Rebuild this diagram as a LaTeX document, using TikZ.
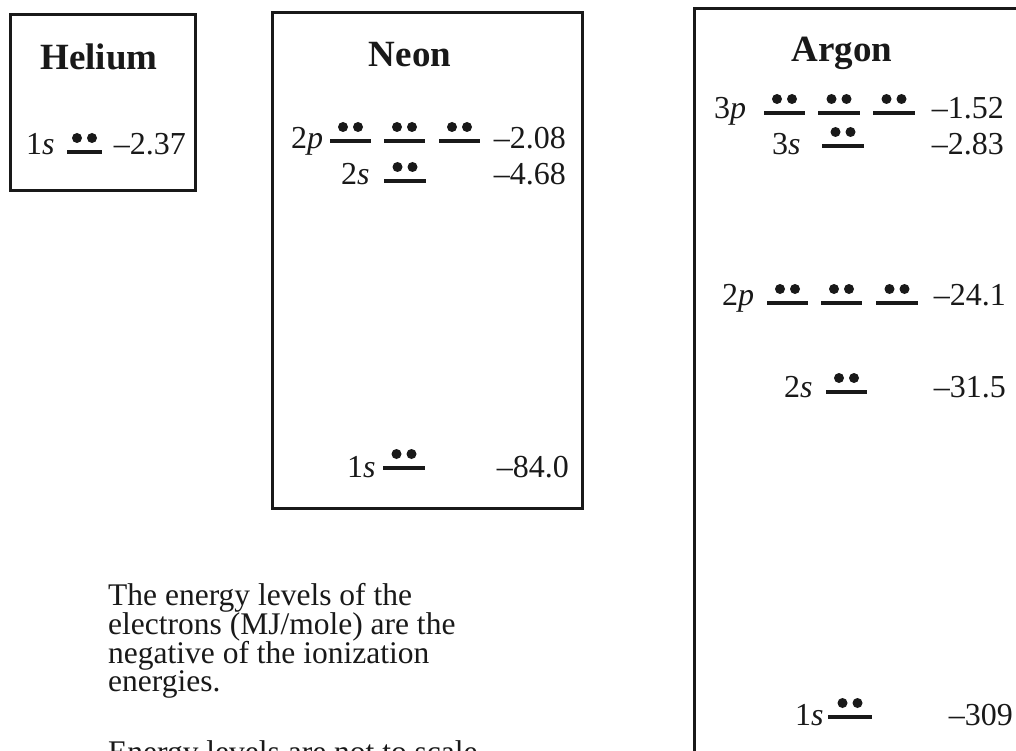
\documentclass[tikz,border=0pt]{standalone}
\usepackage{fontspec}
\setmainfont{Liberation Serif}
\newcommand\enlvl[3]{%
  \draw[lvline] (#1,#3) -- (#2,#3);
  \fill[black!90] ({(#1+#2)/2-7.5},{#3-14}) circle[radius=5];
  \fill[black!90] ({(#1+#2)/2+7.5},{#3-14}) circle[radius=5];}
\begin{document}
\begin{tikzpicture}[x=1pt,y=-1pt,
  box/.style={draw=black!90, line width=3pt},
  head/.style={anchor=base, font=\fontsize{37}{40}\selectfont\bfseries, inner sep=0pt, text=black!90},
  lab/.style={anchor=base west, font=\fontsize{32}{34}\selectfont, inner sep=0pt, text=black!90},
  val/.style={anchor=base east, font=\fontsize{32}{34}\selectfont, inner sep=0pt, text=black!90},
  lvline/.style={line width=3.2pt, black!90},
  body/.style={anchor=base west, font=\fontsize{31.5}{28}\selectfont, inner sep=0pt, text=black!90}
]
\useasboundingbox (0,0) rectangle (1016,751);
\clip (0,0) rectangle (1016,751);
\fill[white] (0,0) rectangle (1016,751);

% Helium
\draw[box] (10,15) rectangle (195,191);
\node[head] (he) at (99,70) {Helium};
\node[lab] (he1s) at (26,155) {1\textit{s}};
\enlvl{67}{102}{152}
\node[val] (he1sv) at (186,155) {–2.37};

% Neon
\draw[box] (272,13) rectangle (582,508);
\node[head] (ne) at (410,67) {Neon};
\node[lab] (ne2p) at (291,149) {2\textit{p}};
\enlvl{330}{371}{141}
\enlvl{384}{425}{141}
\enlvl{439}{480}{141}
\node[val] (ne2pv) at (566,149) {–2.08};
\node[lab] (ne2s) at (341,185) {2\textit{s}};
\enlvl{384}{426}{181}
\node[val] (ne2sv) at (566,185) {–4.68};
\node[lab] (ne1s) at (347,477) {1\textit{s}};
\enlvl{383}{425}{468}
\node[val] (ne1sv) at (569,477) {–84.0};

% Argon
\draw[box] (694,9) -- (1040,9) -- (1040,780) -- (694,780) -- cycle;
\node[head] (ar) at (842,62) {Argon};
\node[lab] (ar3p) at (714,119) {3\textit{p}};
\enlvl{764}{805}{113}
\enlvl{818}{860}{113}
\enlvl{873}{915}{113}
\node[val] (ar3pv) at (1004,119) {–1.52};
\node[lab] (ar3s) at (772,155) {3\textit{s}};
\enlvl{822}{864}{146}
\node[val] (ar3sv) at (1004,155) {–2.83};
\node[lab] (ar2p) at (722,305) {2\textit{p}};
\enlvl{767}{808}{303}
\enlvl{821}{862}{303}
\enlvl{876}{918}{303}
\node[val] (ar2pv) at (1006,305) {–24.1};
\node[lab] (ar2s) at (784,397) {2\textit{s}};
\enlvl{826}{867}{392}
\node[val] (ar2sv) at (1006,397) {–31.5};
\node[lab] (ar1s) at (795,725) {1\textit{s}};
\enlvl{828}{872}{717}
\node[val] (ar1sv) at (1013,725) {–309};

% Note
\node[body] (n1) at (108,605) {The energy levels of the};
\node[body] (n2) at (108,634) {electrons (MJ/mole) are the};
\node[body] (n3) at (108,663) {negative of the ionization};
\node[body] (n4) at (108,691) {energies.};
\node[body] (n5) at (108,762) {Energy levels are not to scale.};
\end{tikzpicture}
\end{document}
